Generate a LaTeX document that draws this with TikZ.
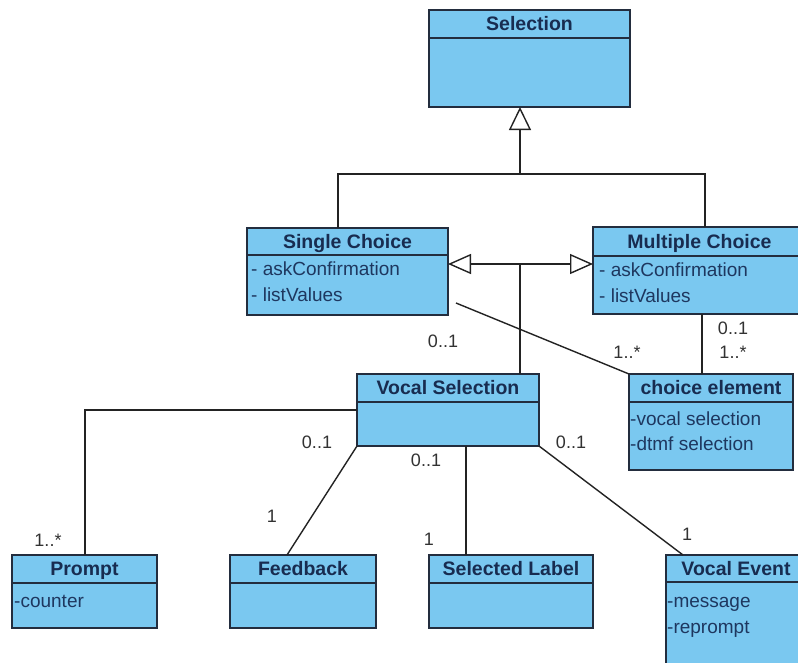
\documentclass[tikz,border=0pt]{standalone}
\usepackage{fontspec}
\setmainfont{Liberation Sans}
\usetikzlibrary{arrows.meta}

\definecolor{classfill}{RGB}{122,200,240}
\definecolor{classedge}{RGB}{35,45,62}
\definecolor{titleink}{RGB}{24,44,80}
\definecolor{attrink}{RGB}{30,55,95}
\definecolor{wire}{RGB}{35,35,35}
\definecolor{multink}{RGB}{50,50,50}

\tikzset{
  classbox/.style={draw=classedge, fill=classfill, line width=1.4pt,
    rectangle, inner sep=0pt, outer sep=0pt},
  divider/.style={draw=classedge, line width=1.4pt},
  classtitle/.style={anchor=base, inner sep=0pt, text=titleink,
    font=\fontsize{19.5}{21}\selectfont\bfseries},
  attr/.style={anchor=base west, inner sep=0pt, text=attrink,
    font=\fontsize{19}{21}\selectfont},
  mult/.style={inner sep=0pt, text=multink, font=\fontsize{18}{20}\selectfont},
  wireline/.style={draw=wire, line width=1.4pt},
  genarrow/.style={wireline, -{Triangle[open, fill=white, length=23pt, width=#1, line width=1.4pt]}},
  genarrow/.default=21pt
}

% class box: name, left, top, right, bottom, divider, title
\newcommand\umlclass[7]{%
  \node[classbox, anchor=north west, minimum width={#4pt-#2pt},
        minimum height={#5pt-#3pt}] (#1) at (#2,#3) {};
  \draw[divider] (#2,#6) -- (#4,#6);
  \node[classtitle] (#1-t) at ({(#2+#4)/2},{(#3+#6)/2+6.5}) {#7};
}

\begin{document}
\begin{tikzpicture}[x=1pt, y=-1pt]
  \path[use as bounding box, clip] (0,0) rectangle (798,662);
  \fill[white] (0,0) rectangle (798,662);

  % classes
  \umlclass{sel}{429}{10}{630}{107}{38}{Selection}
  \umlclass{sc}{247}{228}{448}{315}{255}{Single Choice}
  \umlclass{mc}{593}{227}{806}{314}{256}{Multiple Choice}
  \umlclass{vs}{357}{374}{539}{446}{402}{Vocal Selection}
  \umlclass{ce}{629}{374}{793}{470}{402}{choice element}
  \umlclass{pr}{12}{555}{157}{628}{583}{Prompt}
  \umlclass{fb}{230}{555}{376}{628}{583}{Feedback}
  \umlclass{sl}{429}{555}{593}{628}{583}{Selected Label}
  \umlclass{ve}{666}{555}{806}{680}{582}{Vocal Event}

  % attributes
  \node[attr] (sc-a1) at (251,275) {- askConfirmation};
  \node[attr] (sc-a2) at (251,301) {- listValues};
  \node[attr] (mc-a1) at (599,276) {- askConfirmation};
  \node[attr] (mc-a2) at (599,302) {- listValues};
  \node[attr] (ce-a1) at (630,425) {-vocal selection};
  \node[attr] (ce-a2) at (630,450) {-dtmf selection};
  \node[attr] (pr-a1) at (14,607) {-counter};
  \node[attr] (ve-a1) at (667,607) {-message};
  \node[attr] (ve-a2) at (667,633) {-reprompt};

  % routing points
  \coordinate (topbus) at (520,174);
  \coordinate (scup) at (338,0);
  \coordinate (mcup) at (705,0);
  \coordinate (midbus) at (520,264);
  \coordinate (cex) at (702,0);
  \coordinate (prbend) at (85,410);
  \coordinate (slx) at (466,0);

  % generalizations
  \draw[wireline] (sc.north -| scup) |- (topbus) -| (mc.north -| mcup);
  \draw[genarrow=22pt] (topbus) -- (sel.south -| topbus);
  \draw[wireline] (vs.north -| midbus) -- (midbus);
  \draw[genarrow=20pt] (midbus) -- (sc.east |- midbus);
  \draw[genarrow=20pt] (midbus) -- (mc.west |- midbus);

  % associations
  \draw[wireline] ([xshift=8pt, yshift=-31.5pt]sc.east) -- (ce.north west);
  \draw[wireline] (mc.south -| cex) -- (ce.north -| cex);
  \draw[wireline] (vs.west |- prbend) -| (pr.north -| prbend);
  \draw[wireline] (vs.south west) -- ([xshift=-16pt]fb.north);
  \draw[wireline] (vs.south -| slx) -- (sl.north -| slx);
  \draw[wireline] (vs.south east) -- ([xshift=17pt]ve.north west);

  % multiplicities
  \node[mult] (m1) at (443,341) {0..1};
  \node[mult] (m2) at (627,352) {1..*};
  \node[mult] (m3) at (733,328) {0..1};
  \node[mult] (m4) at (733,352) {1..*};
  \node[mult] (m5) at (317,442) {0..1};
  \node[mult] (m6) at (426,460) {0..1};
  \node[mult] (m7) at (571,442) {0..1};
  \node[mult] (m8) at (48,540) {1..*};
  \node[mult] (m9) at (272,516) {1};
  \node[mult] (m10) at (429,539) {1};
  \node[mult] (m11) at (687,534) {1};
\end{tikzpicture}
\end{document}
